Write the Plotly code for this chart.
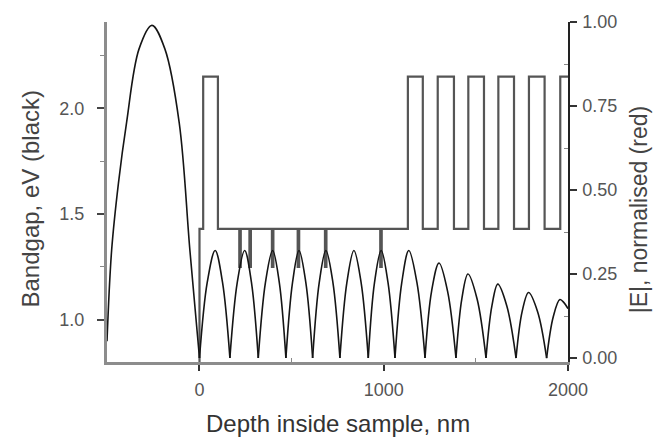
import plotly.graph_objects as go

# ---------------- data ----------------
# Layer structure of the sample: start depth (nm) and bandgap (eV) of each layer
layer_start = [0, 20, 100, 216, 224, 271, 279, 393, 401, 533, 541, 681, 689,
               981, 989, 1131, 1212, 1293, 1381, 1459, 1544, 1622, 1707, 1788,
               1873, 1958]
layer_gap = [1.43, 2.15, 1.43, 1.25, 1.43, 1.25, 1.43, 1.25, 1.43, 1.25, 1.43,
             1.25, 1.43, 1.25, 1.43, 2.15, 1.43, 2.15, 1.43, 2.15, 1.43, 2.15,
             1.43, 2.15, 1.43, 2.15]
sample_end = 2000
surface_floor = 0.0   # air side: no bandgap (drawn from below the axis)

# |E| (normalised) standing-wave profile, one arch per segment (None = break)
E_x = [-502, -477, -440, -396, -328, -258, -188, -110, -52, 0, None,
       0, 42, 85, 125, 165, None,
       165, 205, 245, 282, 319, None,
       319, 358, 397, 433, 469, None,
       469, 505, 540, 577, 614, None,
       614, 650, 686, 724, 762, None,
       762, 800, 838, 877, 916, None,
       916, 950, 986, 1023, 1061, None,
       1061, 1098, 1136, 1180, 1224, None,
       1224, 1260, 1300, 1346, 1392, None,
       1392, 1424, 1457, 1506, 1555, None,
       1555, 1587, 1619, 1668, 1718, None,
       1718, 1751, 1786, 1835, 1884, None,
       1884, 1920, 1956, 1978, 2000]
E_y = [0.05, 0.32, 0.52, 0.70, 0.92, 0.99, 0.92, 0.70, 0.32, 0.0, None,
       0.0, 0.225, 0.32, 0.225, 0.0, None,
       0.0, 0.225, 0.32, 0.225, 0.0, None,
       0.0, 0.225, 0.32, 0.225, 0.0, None,
       0.0, 0.225, 0.32, 0.225, 0.0, None,
       0.0, 0.225, 0.32, 0.225, 0.0, None,
       0.0, 0.225, 0.32, 0.225, 0.0, None,
       0.0, 0.225, 0.32, 0.225, 0.0, None,
       0.0, 0.225, 0.32, 0.225, 0.0, None,
       0.0, 0.20, 0.283, 0.20, 0.0, None,
       0.0, 0.177, 0.25, 0.177, 0.0, None,
       0.0, 0.155, 0.22, 0.155, 0.0, None,
       0.0, 0.138, 0.195, 0.138, 0.0, None,
       0.0, 0.123, 0.174, 0.165, 0.147]

x_ticks = [0, 1000, 2000]
y_ticks = [1.0, 1.5, 2.0]
y2_ticks = [0.0, 0.25, 0.5, 0.75, 1.0]

# ---------------- figure ----------------
gap_x = [layer_start[0]] + layer_start + [sample_end]
gap_y = [surface_floor] + layer_gap + [layer_gap[-1]]

FONT = "Liberation Sans, Arial, Helvetica, sans-serif"

fig = go.Figure()
fig.add_trace(go.Scatter(
    x=gap_x, y=gap_y, mode="lines", yaxis="y",
    line=dict(shape="hv", color="#555555", width=2.2),
    hoverinfo="skip"))
fig.add_trace(go.Scatter(
    x=E_x, y=E_y, mode="lines", yaxis="y2", connectgaps=False,
    line=dict(shape="spline", smoothing=1, color="#151515", width=1.6),
    hoverinfo="skip"))

fig.update_layout(
    width=655, height=441,
    margin=dict(l=107, r=87, t=18, b=79, pad=0),
    paper_bgcolor="white", plot_bgcolor="white",
    showlegend=False,
    font=dict(family=FONT, color="#555555"),
    xaxis=dict(
        range=[-502, 2000], showgrid=False, zeroline=False,
        showline=True, linecolor="#8c8c8c", linewidth=3,
        ticks="outside", ticklen=6, tickwidth=1.5, tickcolor="#333333",
        tickvals=x_ticks, ticklabelstandoff=3,
        tickfont=dict(size=18, color="#555555"),
        minor=dict(tickvals=[500, 1500], ticks="inside", ticklen=4,
                   tickcolor="#888888", tickwidth=1),
    ),
    yaxis=dict(
        range=[0.8005, 2.408], showgrid=False, zeroline=False,
        showline=True, linecolor="#8c8c8c", linewidth=3,
        ticks="outside", ticklen=7, tickwidth=1.5, tickcolor="#444444",
        tickvals=y_ticks, tickformat=".1f", ticklabelstandoff=9,
        tickfont=dict(size=18, color="#555555"),
        minor=dict(tickvals=[1.25, 1.75, 2.25], ticks="outside", ticklen=4,
                   tickcolor="#888888", tickwidth=1),
    ),
    yaxis2=dict(
        overlaying="y", side="right", anchor="x",
        range=[-0.0118, 1.0], showgrid=False, zeroline=False,
        showline=True, linecolor="#222222", linewidth=1.5,
        ticks="outside", ticklen=7, tickwidth=1.5, tickcolor="#333333",
        tickvals=y2_ticks, tickformat=".2f", ticklabelstandoff=2,
        tickfont=dict(size=18, color="#555555"),
        minor=dict(tickvals=[0.125, 0.375, 0.625, 0.875], ticks="inside",
                   ticklen=4, tickcolor="#888888", tickwidth=1),
    ),
    annotations=[
        dict(text="Bandgap, eV (black)", xref="paper", yref="paper",
             x=-0.167, y=0.478, xanchor="center", yanchor="middle",
             textangle=-90, showarrow=False,
             font=dict(size=24, color="#444444", family=FONT)),
        dict(text="|E|, normalised (red)", xref="paper", yref="paper",
             x=1.154, y=0.449, xanchor="center", yanchor="middle",
             textangle=-90, showarrow=False,
             font=dict(size=23, color="#444444", family=FONT)),
        dict(text="Depth inside sample, nm", xref="paper", yref="paper",
             x=0.501, y=-0.180, xanchor="center", yanchor="middle",
             showarrow=False,
             font=dict(size=24, color="#333333", family=FONT)),
    ],
)

fig.write_html("out.html")
